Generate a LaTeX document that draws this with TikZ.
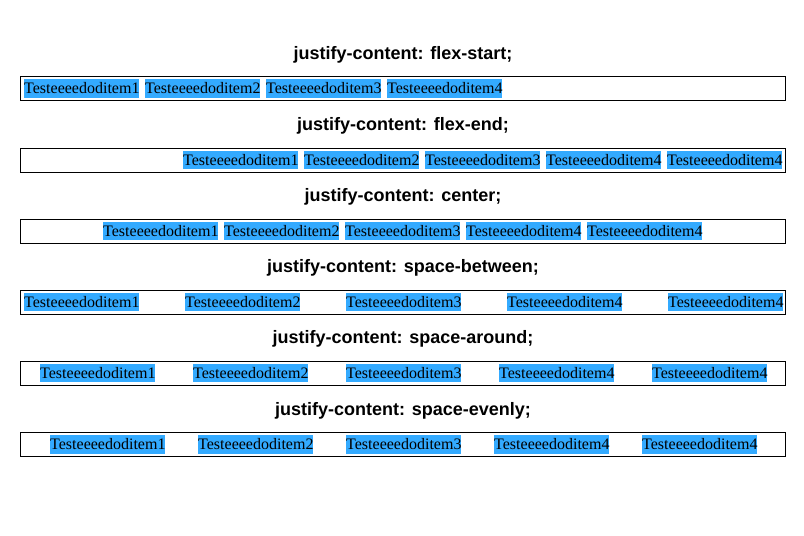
\documentclass[tikz,border=0pt]{standalone}
\usepackage{fontspec}
\setmainfont{Liberation Serif}
\newfontfamily\headfont{Liberation Sans}
\usetikzlibrary{positioning}
\definecolor{itembg}{HTML}{33AAFF}
\tikzstyle{heading} = [font=\headfont\bfseries\fontsize{18}{20}\selectfont,inner sep=0]
\tikzstyle{flexbox} = [draw,line width=1pt,minimum width=765pt,minimum height=24pt,inner sep=0]
\tikzstyle{item} = [fill=itembg,inner xsep=0,inner ysep=0,text height=14.2pt,text depth=4pt,font=\fontsize{16}{18}\selectfont,anchor=west]
\def \lbl {Testeeeedoditem}

\begin{document}
\begin{tikzpicture}[x=1pt,y=-1pt]
      \useasboundingbox (0,0) rectangle (804,536);
      % flex-start
      \node[heading] (fs-t) at (403,54.5) {justify-content: flex-start;};
      \node[flexbox] (fs) at (403,88.5) {};
      \foreach \x/\n [count=\i] in {24/1,145/2,266/3,387/4}
        \node[item] (fs\i) at (\x,88.5) {\lbl\n};
      % flex-end
      \node[heading] (fe-t) at (403,125.5) {justify-content: flex-end;};
      \node[flexbox] (fe) at (403,160) {};
      \foreach \x/\n [count=\i] in {183/1,304/2,425/3,546/4,667/4}
        \node[item] (fe\i) at (\x,160) {\lbl\n};
      % center
      \node[heading] (ce-t) at (403,196.5) {justify-content: center;};
      \node[flexbox] (ce) at (403,231) {};
      \foreach \x/\n [count=\i] in {103/1,224/2,345/3,466/4,587/4}
        \node[item] (ce\i) at (\x,231) {\lbl\n};
      % space-between
      \node[heading] (sb-t) at (403,267.5) {justify-content: space-between;};
      \node[flexbox] (sb) at (403,302) {};
      \foreach \x/\n [count=\i] in {24/1,185/2,346/3,507/4,668/4}
        \node[item] (sb\i) at (\x,302) {\lbl\n};
      % space-around
      \node[heading] (sa-t) at (403,338.5) {justify-content: space-around;};
      \node[flexbox] (sa) at (403,373) {};
      \foreach \x/\n [count=\i] in {40/1,193/2,346/3,499/4,652/4}
        \node[item] (sa\i) at (\x,373) {\lbl\n};
      % space-evenly
      \node[heading] (se-t) at (403,410.5) {justify-content: space-evenly;};
      \node[flexbox] (se) at (403,444.5) {};
      \foreach \x/\n [count=\i] in {50/1,198/2,346/3,494/4,642/4}
        \node[item] (se\i) at (\x,444.5) {\lbl\n};
    \end{tikzpicture}
\end{document}
